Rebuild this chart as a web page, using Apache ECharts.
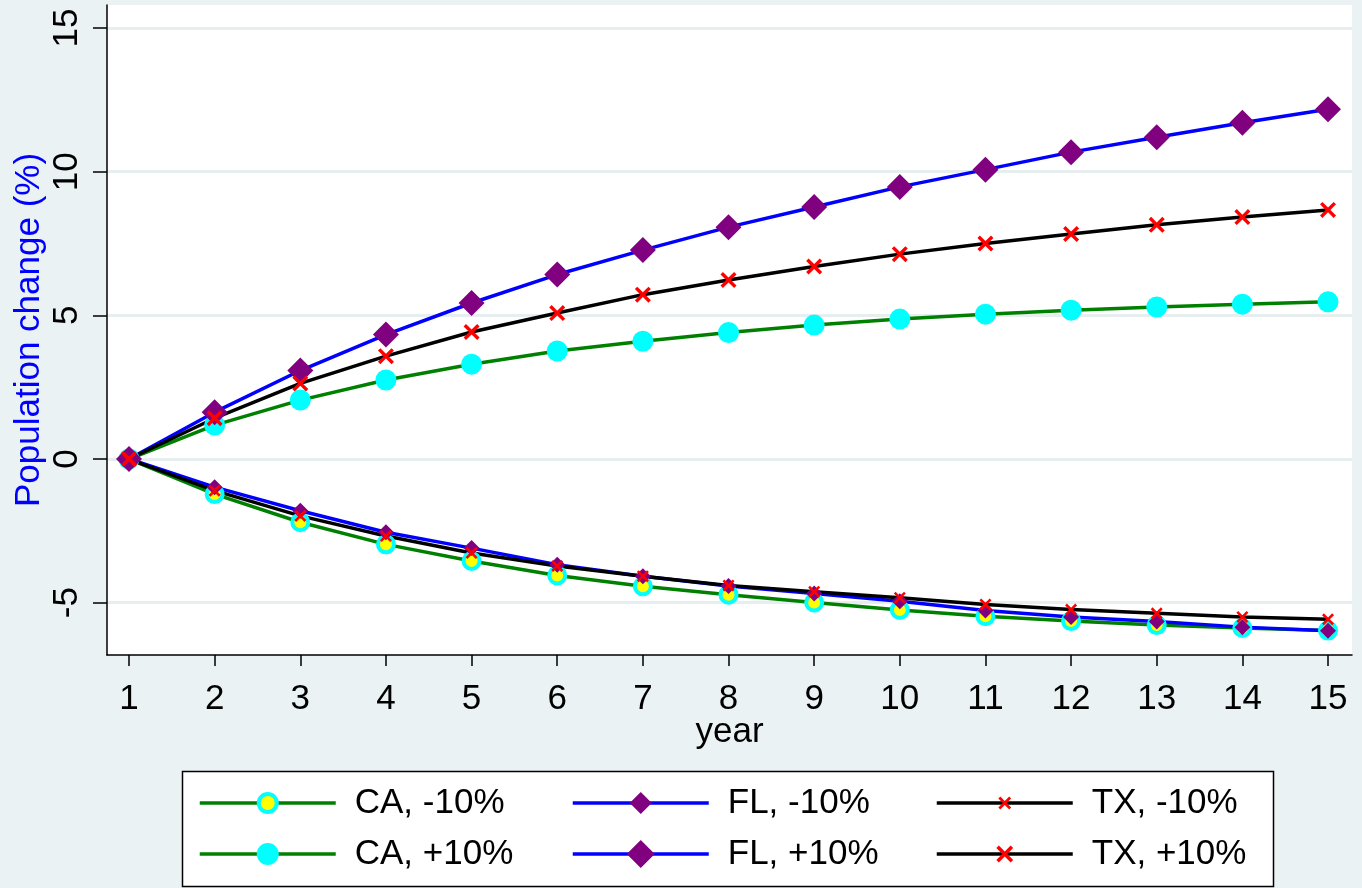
<!DOCTYPE html>
<html>
<head>
<meta charset="utf-8">
<script src="https://cdn.jsdelivr.net/npm/echarts@6/dist/echarts.min.js"></script>
<style>
html,body{margin:0;padding:0;background:#eaf2f3;}
#chart{width:1362px;height:888px;}
</style>
</head>
<body>
<div id="chart"></div>
<script>
const years = [1,2,3,4,5,6,7,8,9,10,11,12,13,14,15];
const yTicks = [-5, 0, 5, 10, 15];
const caMinus = [0, -1.22, -2.2, -2.97, -3.55, -4.05, -4.43, -4.72, -4.99, -5.25, -5.47, -5.64, -5.78, -5.88, -5.97];
const caPlus  = [0, 1.18, 2.05, 2.75, 3.3, 3.76, 4.1, 4.4, 4.66, 4.87, 5.04, 5.18, 5.29, 5.39, 5.47];
const flMinus = [0, -0.98, -1.8, -2.55, -3.1, -3.68, -4.08, -4.42, -4.68, -4.95, -5.27, -5.5, -5.65, -5.85, -5.98];
const flPlus  = [0, 1.63, 3.08, 4.33, 5.43, 6.42, 7.27, 8.07, 8.77, 9.47, 10.07, 10.68, 11.2, 11.7, 12.17];
const txMinus = [0, -1.1, -1.98, -2.68, -3.27, -3.72, -4.08, -4.4, -4.62, -4.83, -5.06, -5.24, -5.37, -5.5, -5.58];
const txPlus  = [0, 1.42, 2.63, 3.58, 4.42, 5.08, 5.72, 6.23, 6.7, 7.13, 7.5, 7.83, 8.15, 8.42, 8.67];
const names = ['CA, -10%', 'CA, +10%', 'FL, -10%', 'FL, +10%', 'TX, -10%', 'TX, +10%'];

const FONT = "'Liberation Sans', Arial, sans-serif";
const FS = 35;
const XPATH = 'path://M0,3 L3,0 L10,7 L17,0 L20,3 L13,10 L20,17 L17,20 L10,13 L3,20 L0,17 L7,10 Z';
const pairs = arr => years.map((y, i) => [y, arr[i]]);

function mkSeries(name, arr, lineColor, symbol, size, itemStyle) {
  return {
    name: name, type: 'line', data: pairs(arr),
    symbol: symbol, symbolSize: size, showSymbol: true,
    lineStyle: { color: lineColor, width: 3.5 },
    itemStyle: itemStyle,
    emphasis: { disabled: true }
  };
}

const lineColors = ['#008000', '#008000', '#0000ff', '#0000ff', '#000000', '#000000'];
const series = [
  mkSeries(names[0], caMinus, lineColors[0], 'circle', 16, { color: '#ffff00', borderColor: '#00ffff', borderWidth: 4 }),
  mkSeries(names[1], caPlus, lineColors[1], 'circle', 21, { color: '#00ffff', borderWidth: 0 }),
  mkSeries(names[2], flMinus, lineColors[2], 'diamond', 16, { color: '#800080', borderWidth: 0 }),
  mkSeries(names[3], flPlus, lineColors[3], 'diamond', 26, { color: '#800080', borderWidth: 0 }),
  mkSeries(names[4], txMinus, lineColors[4], XPATH, 12, { color: '#ff0000', borderWidth: 0 }),
  mkSeries(names[5], txPlus, lineColors[5], XPATH, 16, { color: '#ff0000', borderWidth: 0 })
];

const colX = [198, 571, 935];
const rowY = [803, 854];
const legendSizes = [22.5, 27.5, 27.5, 35, 16, 21];
const legends = names.map((n, i) => {
  const col = Math.floor(i / 2), row = i % 2;
  const h = legendSizes[i];
  const lg = {
    data: [n], left: colX[col], top: rowY[row] - 21, padding: 0,
    itemWidth: 136, itemHeight: h, selectedMode: false,
    lineStyle: { width: 3.5, color: lineColors[i] },
    textStyle: { fontSize: FS, lineHeight: 42, color: '#000', fontFamily: FONT, padding: [0, 0, 0, 14] },
    z: 5
  };
  if (i === 0) lg.itemStyle = { borderColor: '#00ffff', borderWidth: 4 };
  return lg;
});

const chart = echarts.init(document.getElementById('chart'), null, { renderer: 'canvas' });
chart.setOption({
  animation: false,
  backgroundColor: '#eaf2f3',
  grid: { left: 107, right: 10, top: 5, bottom: 233, show: true, backgroundColor: '#ffffff', borderWidth: 0 },
  xAxis: {
    type: 'value', min: 0.743, max: 15.28,
    name: 'year', nameLocation: 'middle', nameGap: 60, nameMoveOverlap: false,
    nameTextStyle: { fontSize: FS, color: '#000', fontFamily: FONT },
    axisLine: { onZero: false, lineStyle: { color: '#000', width: 1.5 } },
    axisTick: { customValues: years, length: 11, lineStyle: { color: '#000', width: 1.5 } },
    axisLabel: { customValues: years, fontSize: FS, color: '#000', fontFamily: FONT, margin: 27 },
    splitLine: { show: false }
  },
  yAxis: {
    type: 'value', min: -6.82, max: 15.8,
    name: 'Population change (%)', nameLocation: 'middle', nameGap: 60, nameMoveOverlap: false,
    nameTextStyle: { fontSize: FS, color: '#0000ff', fontFamily: FONT },
    axisLine: { show: true, onZero: false, lineStyle: { color: '#000', width: 1.5 } },
    axisTick: { show: true, customValues: yTicks, length: 14, lineStyle: { color: '#000', width: 1.5 } },
    axisLabel: { customValues: yTicks, rotate: 90, fontSize: FS, color: '#000', fontFamily: FONT, margin: 22 },
    splitLine: { show: true, lineStyle: { color: '#e6eef0', width: 3 } }
  },
  legend: legends,
  graphic: [{
    type: 'rect', z: 1,
    shape: { x: 182.5, y: 771.5, width: 1091, height: 115 },
    style: { fill: '#ffffff', stroke: '#000000', lineWidth: 1.5 }
  }],
  series: series
});
</script>
</body>
</html>
